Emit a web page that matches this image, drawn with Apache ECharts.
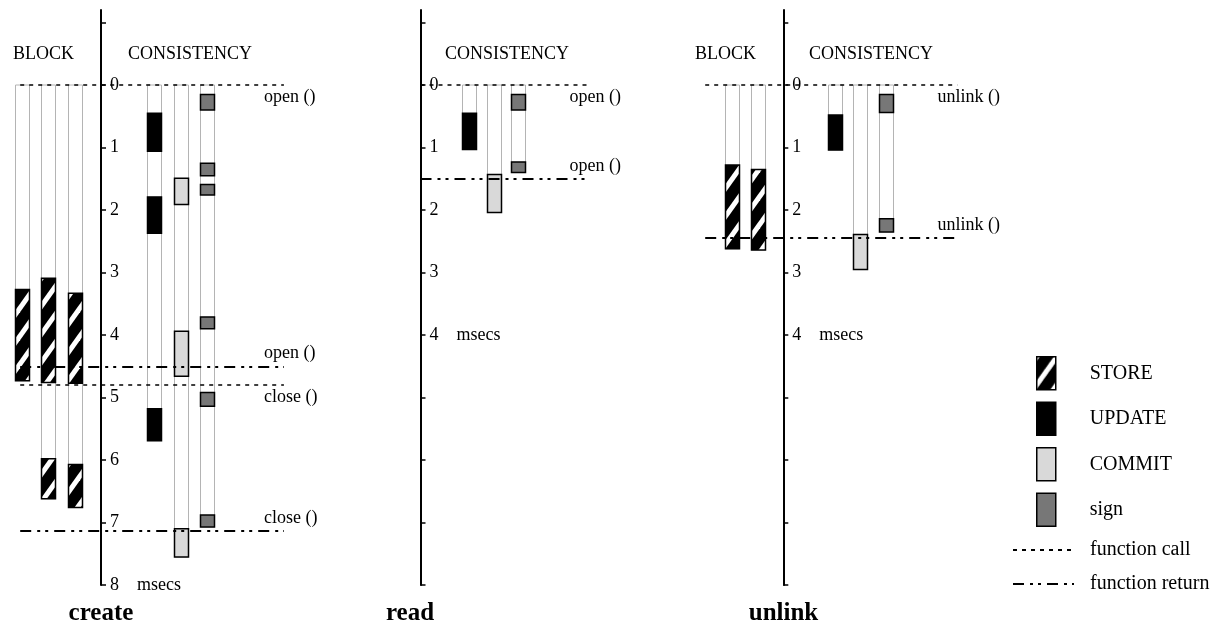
<!DOCTYPE html>
<html>
<head>
<meta charset="utf-8">
<script src="https://cdn.jsdelivr.net/npm/echarts@6/dist/echarts.min.js"></script>
<style>html,body{margin:0;padding:0;background:#fff;}#chart{width:1217px;height:630px;}</style>
</head>
<body>
<div id="chart"></div>
<script>
// ---------- data (msecs), each segment: [column slot, start, end] ----------
const createStore  = [[-3, 3.27, 4.73], [-2, 3.09, 4.76], [-1, 3.33, 4.77], [-2, 5.98, 6.62], [-1, 6.07, 6.76]];
const createUpdate = [[2, 0.45, 1.06], [2, 1.79, 2.37], [2, 5.18, 5.69]];
const createCommit = [[3, 1.49, 1.91], [3, 3.94, 4.66], [3, 7.10, 7.55]];
const createSign   = [[4, 0.15, 0.40], [4, 1.25, 1.45], [4, 1.59, 1.76], [4, 3.71, 3.90], [4, 4.92, 5.14], [4, 6.88, 7.07]];
const createCalls   = [[0, 'open ()'], [4.80, 'close ()']];
const createReturns = [[4.50, 'open ()'], [7.13, 'close ()']];

const readStore  = [];
const readUpdate = [[2, 0.45, 1.03]];
const readCommit = [[3, 1.43, 2.04]];
const readSign   = [[4, 0.15, 0.40], [4, 1.23, 1.40]];
const readCalls   = [[0, 'open ()']];
const readReturns = [[1.50, 'open ()']];

const unlinkStore  = [[-2, 1.28, 2.62], [-1, 1.35, 2.64]];
const unlinkUpdate = [[2, 0.48, 1.04]];
const unlinkCommit = [[3, 2.39, 2.95]];
const unlinkSign   = [[4, 0.15, 0.44], [4, 2.14, 2.35]];
const unlinkCalls   = [[0, 'unlink ()']];
const unlinkReturns = [[2.45, 'unlink ()']];

const tickValues = [-1, 0, 1, 2, 3, 4, 5, 6, 7, 8];
const createLabelValues = [0, 1, 2, 3, 4, 5, 6, 7, 8];
const shortLabelValues = [0, 1, 2, 3, 4];
const unitName = 'msecs';
const panelTitles = ['create', 'read', 'unlink'];
const legendBoxes = ['STORE', 'UPDATE', 'COMMIT', 'sign'];
const legendLines = ['function call', 'function return'];

// ---------- assembly ----------
const FONT = "'Liberation Serif','Times New Roman',serif";
const panels = [
  {store: createStore, update: createUpdate, commit: createCommit, sign: createSign, calls: createCalls, returns: createReturns, labels: createLabelValues, msecsAt: 8},
  {store: readStore, update: readUpdate, commit: readCommit, sign: readSign, calls: readCalls, returns: readReturns, labels: shortLabelValues, msecsAt: 4},
  {store: unlinkStore, update: unlinkUpdate, commit: unlinkCommit, sign: unlinkSign, calls: unlinkCalls, returns: unlinkReturns, labels: shortLabelValues, msecsAt: 4}
];
const layouts = [
  {left: 20.2, width: 263.7, xMin: -3.05, xMax: 6.9, axisX: 101, titleX: 101},
  {left: 420.5, width: 169, xMin: 0, xMax: 6.9, axisX: 420.5, titleX: 410},
  {left: 705.2, width: 252.2, xMin: -3.05, xMax: 6.8, axisX: 783.3, titleX: 783.5}
];

function makeHatch() {
  const c = document.createElement('canvas');
  const W = 20, H = 28;
  c.width = W; c.height = H;
  const g = c.getContext('2d');
  g.fillStyle = '#000'; g.fillRect(0, 0, W, H);
  g.strokeStyle = '#fff'; g.lineWidth = 5;
  [-H, 0, H].forEach(b => {
    const x0 = -W, x1 = 2 * W;
    g.beginPath();
    g.moveTo(x0, H - (H / W) * x0 + b);
    g.lineTo(x1, H - (H / W) * x1 + b);
    g.stroke();
  });
  return c;
}
const hatch = {image: makeHatch(), repeat: 'repeat'};

const styles = {
  lane:   {fill: '#fff', stroke: '#b4b4b4', lineWidth: 1},
  STORE:  {fill: hatch, stroke: '#000', lineWidth: 1.5},
  UPDATE: {fill: '#000', stroke: '#000', lineWidth: 1.5},
  COMMIT: {fill: '#d9d9d9', stroke: '#000', lineWidth: 1.5},
  sign:   {fill: '#777777', stroke: '#000', lineWidth: 1.5}
};
const BAR_W = 14;

function rectRenderer(st) {
  return function (params, api) {
    const slot = api.value(0);
    const p0 = api.coord([slot, api.value(1)]);
    const p1 = api.coord([slot, api.value(2)]);
    return {
      type: 'rect',
      shape: {x: Math.round(p0[0] - BAR_W / 2) + 0.5, y: p0[1], width: BAR_W, height: p1[1] - p0[1]},
      style: Object.assign({}, st)
    };
  };
}

function lanesOf(p) {
  const m = {};
  [p.store, p.update, p.commit, p.sign].forEach(arr => arr.forEach(seg => {
    m[seg[0]] = Math.max(m[seg[0]] || 0, seg[2]);
  }));
  return Object.keys(m).map(k => [Number(k), 0, m[k]]);
}

const grids = [], xAxes = [], yAxes = [], series = [];
panels.forEach((p, i) => {
  const L = layouts[i];
  grids.push({left: L.left, top: 10, width: L.width, height: 575, outerBoundsMode: 'none', containLabel: false});
  xAxes.push({type: 'value', gridIndex: i, min: L.xMin, max: L.xMax, show: false});
  yAxes.push({
    type: 'value', gridIndex: i, inverse: true, min: -1.2, max: 8, position: 'left',
    offset: -(L.axisX - L.left),
    axisLine: {show: true, onZero: false, lineStyle: {color: '#000', width: 2}},
    axisTick: {show: true, inside: true, length: 5, lineStyle: {color: '#000', width: 1.5}, customValues: tickValues},
    axisLabel: {
      show: true, inside: true, margin: 9, customValues: p.labels,
      color: '#000', fontSize: 18, fontFamily: FONT,
      formatter: v => (v === p.msecsAt ? v + '    ' + unitName : String(v))
    },
    splitLine: {show: false}
  });
  const common = {xAxisIndex: i, yAxisIndex: i, encode: {x: 0, y: [1, 2]}, silent: true};
  series.push(Object.assign({type: 'custom', name: 'lane', z: 1, data: lanesOf(p), renderItem: rectRenderer(styles.lane)}, common));
  [['STORE', p.store], ['UPDATE', p.update], ['COMMIT', p.commit], ['sign', p.sign]].forEach(([name, arr]) => {
    const st = styles[name];
    series.push(Object.assign({
      type: 'custom', name: name, z: 2, data: arr,
      itemStyle: {color: st.fill, borderColor: st.stroke, borderWidth: st.lineWidth},
      renderItem: rectRenderer(st)
    }, common));
  });
  const callStyle = {color: '#000', width: 1.5, type: [4, 5]};
  const retStyle = {color: '#000', width: 1.8, type: [11, 6, 3, 5, 3, 6]};
  series.push({
    type: 'line', name: 'function call', xAxisIndex: i, yAxisIndex: i, data: [], symbol: 'none', showSymbol: false,
    itemStyle: {color: '#000', opacity: 0}, lineStyle: callStyle, z: 5, silent: true,
    markLine: {silent: true, symbol: ['none', 'none'], label: {show: false}, lineStyle: callStyle,
      emphasis: {disabled: true}, animation: false, data: p.calls.map(c => ({yAxis: c[0]}))}
  });
  series.push({
    type: 'line', name: 'function return', xAxisIndex: i, yAxisIndex: i, data: [], symbol: 'none', showSymbol: false,
    itemStyle: {color: '#000', opacity: 0}, lineStyle: retStyle, z: 5, silent: true,
    markLine: {silent: true, symbol: ['none', 'none'], label: {show: false}, lineStyle: retStyle,
      emphasis: {disabled: true}, animation: false, data: p.returns.map(r => ({yAxis: r[0]}))}
  });
  const labelItems = p.calls.map(c => ({y: c[0], text: c[1], side: 1}))
    .concat(p.returns.map(r => ({y: r[0], text: r[1], side: -1})));
  series.push({
    type: 'custom', name: 'call labels', xAxisIndex: i, yAxisIndex: i, z: 6, silent: true,
    data: labelItems.map(o => [0, o.y]), encode: {x: 0, y: 1},
    renderItem: function (params, api) {
      const o = labelItems[params.dataIndex];
      const py = api.coord([0, api.value(1)])[1];
      const cs = params.coordSys;
      return {
        type: 'text', x: cs.x + cs.width - 20, y: py + o.side * 12.5,
        style: {text: o.text, fill: '#000', fontSize: 18, fontFamily: FONT, align: 'left', verticalAlign: 'middle'}
      };
    }
  });
});

const headerStyle = {fill: '#000', fontSize: 18, fontFamily: FONT, verticalAlign: 'middle'};
const graphics = [
  {type: 'text', x: 13, y: 54, style: Object.assign({text: 'BLOCK'}, headerStyle)},
  {type: 'text', x: 128, y: 54, style: Object.assign({text: 'CONSISTENCY'}, headerStyle)},
  {type: 'text', x: 445, y: 54, style: Object.assign({text: 'CONSISTENCY'}, headerStyle)},
  {type: 'text', x: 695, y: 54, style: Object.assign({text: 'BLOCK'}, headerStyle)},
  {type: 'text', x: 809, y: 54, style: Object.assign({text: 'CONSISTENCY'}, headerStyle)}
];
panelTitles.forEach((t, i) => {
  graphics.push({type: 'text', x: layouts[i].titleX, y: 614,
    style: {text: t, fill: '#000', fontSize: 25, fontWeight: 'bold', fontFamily: FONT, align: 'center', verticalAlign: 'middle'}});
});

const chart = echarts.init(document.getElementById('chart'), null, {renderer: 'canvas'});
chart.setOption({
  animation: false,
  backgroundColor: '#fff',
  textStyle: {fontFamily: FONT},
  grid: grids,
  xAxis: xAxes,
  yAxis: yAxes,
  legend: [
    {data: legendBoxes, orient: 'vertical', left: 1036, top: 356, padding: 0, itemWidth: 19, itemHeight: 33, itemGap: 11,
      icon: 'rect', selectedMode: false,
      itemStyle: {borderColor: '#000', borderWidth: 1.5},
      textStyle: {color: '#000', fontSize: 20, fontFamily: FONT, padding: [0, 0, 0, 29]}},
    {data: legendLines, orient: 'vertical', left: 1012, top: 540, padding: 0, itemWidth: 61, itemHeight: 14, itemGap: 14,
      selectedMode: false,
      itemStyle: {opacity: 0},
      textStyle: {color: '#000', fontSize: 20, fontFamily: FONT, padding: [0, 0, 0, 11]}}
  ],
  graphic: graphics,
  series: series
});
</script>
</body>
</html>
